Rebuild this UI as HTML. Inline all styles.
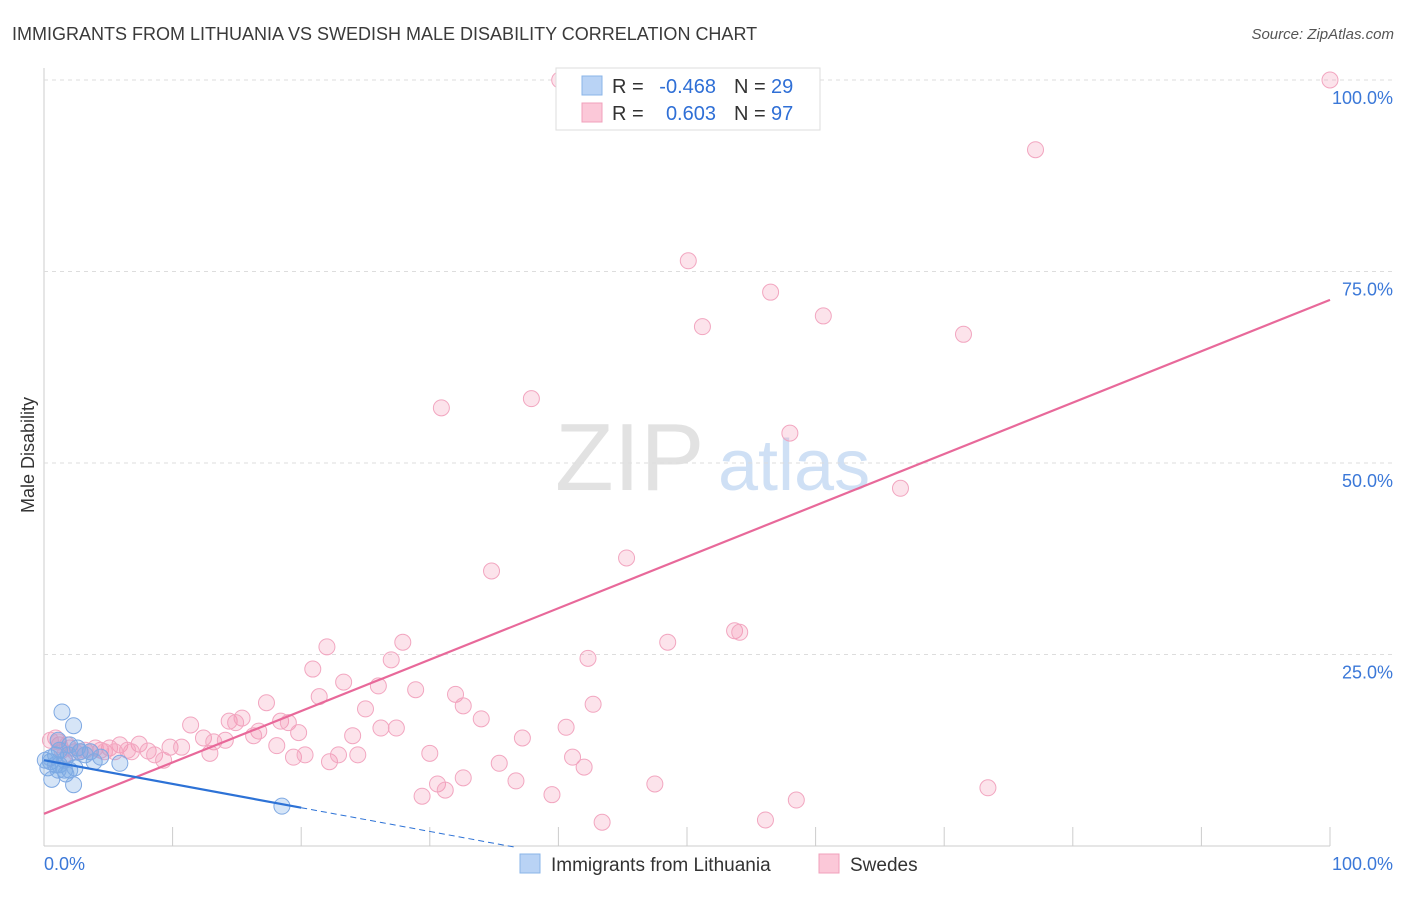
<!DOCTYPE html>
<html><head><meta charset="utf-8"><style>
body{margin:0;background:#fff;font-family:"Liberation Sans",sans-serif;}
svg text{font-family:"Liberation Sans",sans-serif;}
</style></head><body>
<svg id="chart" width="1406" height="892">
<text x="12" y="40" font-size="18" fill="#3a3a3a">IMMIGRANTS FROM LITHUANIA VS SWEDISH MALE DISABILITY CORRELATION CHART</text>
<text x="1394" y="39" font-size="15" fill="#555" font-style="italic" text-anchor="end">Source: ZipAtlas.com</text>
<text transform="translate(34,455) rotate(-90)" font-size="18" fill="#333" text-anchor="middle">Male Disability</text>
<text x="555" y="490" font-size="96" fill="#e2e2e2" font-family="Liberation Serif">ZIP</text>
<text x="718" y="490" font-size="72" fill="#cfe0f5">atlas</text>
<g id="grid"></g><g id="marks"></g><g id="lines"></g>
<g>
<rect x="556" y="68" width="264" height="62" fill="#fff" stroke="#ddd"/>
<rect x="582" y="76" width="20" height="19" fill="#b9d3f5" stroke="#8ab4e8"/>
<rect x="582" y="103" width="20" height="19" fill="#fbc8d8" stroke="#f0a0bb"/>
<text x="612" y="93" font-size="20" fill="#333">R =</text>
<text x="716" y="93" font-size="20" fill="#2f6fd6" text-anchor="end">-0.468</text>
<text x="734" y="93" font-size="20" fill="#333">N =</text>
<text x="771" y="93" font-size="20" fill="#2f6fd6">29</text>
<text x="612" y="120" font-size="20" fill="#333">R =</text>
<text x="716" y="120" font-size="20" fill="#2f6fd6" text-anchor="end">0.603</text>
<text x="734" y="120" font-size="20" fill="#333">N =</text>
<text x="771" y="120" font-size="20" fill="#2f6fd6">97</text>
</g>
<g>
<rect x="520" y="854" width="20" height="19" fill="#b9d3f5" stroke="#8ab4e8"/>
<text x="551" y="871" font-size="19" fill="#333">Immigrants from Lithuania</text>
<rect x="819" y="854" width="20" height="19" fill="#fbc8d8" stroke="#f0a0bb"/>
<text x="850" y="871" font-size="19" fill="#333">Swedes</text>
</g>
</svg>
<script>
const yTicks=[25,50,75,100];
const yTickLabels=["25.0%","50.0%","75.0%","100.0%"];
const pinkX=[40.1,100,77.1,50.1,56.5,51.2,60.6,71.5,30.9,37.9,58.0,66.6,45.3,34.8,48.5,53.7,54.1,27.9,22.0,27.0,42.3,20.9,23.3,26.0,17.3,21.4,28.9,32.0,32.6,42.7,25.0,11.4,14.4,15.4,18.4,19.0,14.9,16.7,19.8,24.0,34.0,26.2,27.4,40.6,37.2,12.4,13.2,14.1,16.3,9.8,10.7,18.1,12.9,7.4,5.9,8.1,8.6,6.8,9.3,19.4,20.3,22.2,22.9,24.4,30.0,41.1,42.0,35.4,5.1,4.4,3.6,2.8,2.0,1.2,0.9,0.5,32.6,30.6,31.2,36.7,29.4,39.5,47.5,58.5,73.4,43.4,56.1,1.4,1.6,2.4,3.2,4.0,4.7,6.5,5.5,1.8,1.1];
const pinkY=[100,100,90.9,76.4,72.3,67.8,69.2,66.8,57.2,58.4,53.9,46.7,37.6,35.9,26.6,28.1,27.9,26.6,26.0,24.3,24.5,23.1,21.4,20.9,18.7,19.5,20.4,19.8,18.3,18.5,17.9,15.8,16.3,16.7,16.3,16.1,16.1,15.0,14.8,14.4,16.6,15.4,15.4,15.5,14.1,14.1,13.6,13.8,14.4,12.9,12.9,13.1,12.1,13.3,13.2,12.4,11.9,12.3,11.2,11.6,11.9,11.0,11.9,11.9,12.1,11.6,10.3,10.8,12.8,12.5,12.3,12.3,12.8,13.2,14.1,13.8,8.9,8.1,7.3,8.5,6.5,6.7,8.1,6.0,7.6,3.1,3.4,12.5,11.9,12.3,12.5,12.8,12.3,12.5,12.3,13.2,13.6];
const blueX=[1.4,2.3,1.1,0.5,0.9,0.3,1.2,1.6,2.0,2.4,2.8,3.6,3.9,5.9,0.6,2.3,1.7,18.5,0.9,1.2,1.9,0.1,0.5,1.6,2.0,2.6,3.2,4.4,1.1];
const blueY=[17.5,15.7,13.8,11.0,10.6,10.2,10.6,9.9,9.9,10.2,12.3,12.3,11.0,10.8,8.7,8.0,9.4,5.2,11.9,12.5,11.9,11.2,11.5,11.2,13.2,12.8,11.9,11.6,9.9];
const pinkTrend=[4.2,71.3];
const blueTrend=[11.2,-0.31];
const blueSolidEnd=20, blueDashEnd=36.6;

const NS="http://www.w3.org/2000/svg";
const sx=v=>44+v*12.86, sy=v=>846-v*7.66;
function mk(tag,attrs,parent){const e=document.createElementNS(NS,tag);for(const k in attrs)e.setAttribute(k,attrs[k]);parent.appendChild(e);return e;}
const grid=document.getElementById('grid'),marks=document.getElementById('marks'),lines=document.getElementById('lines');
mk('line',{x1:44,y1:68,x2:44,y2:846,stroke:'#ccc'},grid);
mk('line',{x1:44,y1:846,x2:1330,y2:846,stroke:'#ccc'},grid);
yTicks.forEach((t,i)=>{
 const g=mk('line',{x1:44,y1:sy(t),x2:1392,y2:sy(t),stroke:'#ddd','stroke-dasharray':'4,4'},grid);
 
 
 const tx=mk('text',{x:1393,y:sy(t)+24,'font-size':18,fill:'#3b78d8','text-anchor':'end'},grid);
 tx.textContent=yTickLabels[i];
 
 
});
for(let v=0;v<=100;v+=10){
 const l=mk('line',{x1:sx(v),y1:827,x2:sx(v),y2:846,stroke:'#ccc'},grid);
 
 
}
const xl0=mk('text',{x:44,y:870,'font-size':18,fill:'#3b78d8'},grid);xl0.textContent='0.0%';


const xl1=mk('text',{x:1393,y:870,'font-size':18,fill:'#3b78d8','text-anchor':'end'},grid);xl1.textContent='100.0%';


pinkX.forEach((x,i)=>{
 const c=mk('circle',{cx:sx(x),cy:sy(pinkY[i]),r:8,fill:'rgba(244,143,177,0.25)',stroke:'#f2a6c0','stroke-width':1},marks);
 
 
});
blueX.forEach((x,i)=>{
 const c=mk('circle',{cx:sx(x),cy:sy(blueY[i]),r:8,fill:'rgba(120,170,230,0.3)',stroke:'#7fa9e3','stroke-width':1},marks);
 
 
});
const pl=mk('line',{x1:sx(0),y1:sy(pinkTrend[0]),x2:sx(100),y2:sy(pinkTrend[1]),stroke:'#e8699a','stroke-width':2.2},lines);


const bl=mk('line',{x1:sx(0),y1:sy(blueTrend[0]),x2:sx(blueSolidEnd),y2:sy(blueTrend[0]+blueTrend[1]*blueSolidEnd),stroke:'#2d72d6','stroke-width':2.2},lines);


const bd=mk('line',{x1:sx(blueSolidEnd),y1:sy(blueTrend[0]+blueTrend[1]*blueSolidEnd),x2:sx(blueDashEnd),y2:sy(blueTrend[0]+blueTrend[1]*blueDashEnd),stroke:'#2d72d6','stroke-width':1,'stroke-dasharray':'6,4'},lines);


</script>
</body></html>
